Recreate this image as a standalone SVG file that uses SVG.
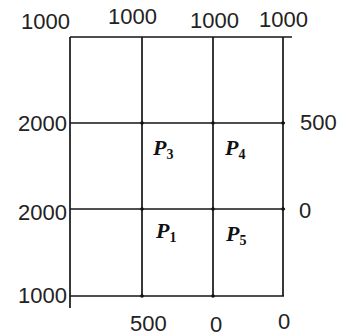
<svg xmlns="http://www.w3.org/2000/svg" width="339" height="336" viewBox="0 0 339 336">
<style>
.ln{stroke:#151515;stroke-width:1.7;fill:none}
.num{font-family:"Liberation Sans",Arial,sans-serif;font-size:22px;fill:#222}
.p{font-family:"Liberation Serif","Times New Roman",serif;font-size:22px;font-weight:bold;font-style:italic;fill:#111}
.sub{font-family:"Liberation Serif","Times New Roman",serif;font-size:14px;font-weight:bold;font-style:normal;fill:#111}
.dot{fill:#111}
</style>
<rect width="339" height="336" fill="#fff"/>
<g id="connectors">
<line class="ln" x1="70" y1="37" x2="292" y2="37"/>
<line class="ln" x1="70" y1="123" x2="285" y2="123"/>
<line class="ln" x1="70" y1="209" x2="285" y2="209"/>
<line class="ln" x1="70" y1="296" x2="284" y2="296"/>
<line class="ln" x1="70" y1="37" x2="70" y2="308"/>
<line class="ln" x1="142" y1="37" x2="142" y2="296"/>
<line class="ln" x1="213" y1="37" x2="213" y2="296"/>
<line class="ln" x1="283" y1="37" x2="283" y2="296"/>
<circle class="dot" cx="142" cy="123" r="1.8"/>
<circle class="dot" cx="213" cy="123" r="1.8"/>
<circle class="dot" cx="283" cy="123" r="1.8"/>
<circle class="dot" cx="142" cy="209" r="1.8"/>
<circle class="dot" cx="213" cy="209" r="1.8"/>
<circle class="dot" cx="283" cy="209" r="1.8"/>
<circle class="dot" cx="142" cy="296" r="1.8"/>
<circle class="dot" cx="213" cy="296" r="1.8"/>
</g>
<g id="top-labels">
<text class="num" x="21" y="29">1000</text>
<text class="num" x="108" y="24">1000</text>
<text class="num" x="190" y="28">1000</text>
<text class="num" x="259" y="27">1000</text>
</g>
<g id="left-labels">
<text class="num" x="67" y="131" text-anchor="end">2000</text>
<text class="num" x="67" y="220" text-anchor="end">2000</text>
<text class="num" x="67" y="303" text-anchor="end">1000</text>
</g>
<g id="right-labels">
<text class="num" x="300" y="130">500</text>
<text class="num" x="299" y="218">0</text>
</g>
<g id="bottom-labels">
<text class="num" x="130" y="331">500</text>
<text class="num" x="210" y="332">0</text>
<text class="num" x="278" y="329">0</text>
</g>
<g id="P3"><text class="p" x="153" y="155">P<tspan class="sub" dy="4">3</tspan></text></g>
<g id="P4"><text class="p" x="225" y="155">P<tspan class="sub" dy="4">4</tspan></text></g>
<g id="P1"><text class="p" x="156" y="238">P<tspan class="sub" dy="4">1</tspan></text></g>
<g id="P5"><text class="p" x="226" y="241">P<tspan class="sub" dy="4">5</tspan></text></g>
</svg>
